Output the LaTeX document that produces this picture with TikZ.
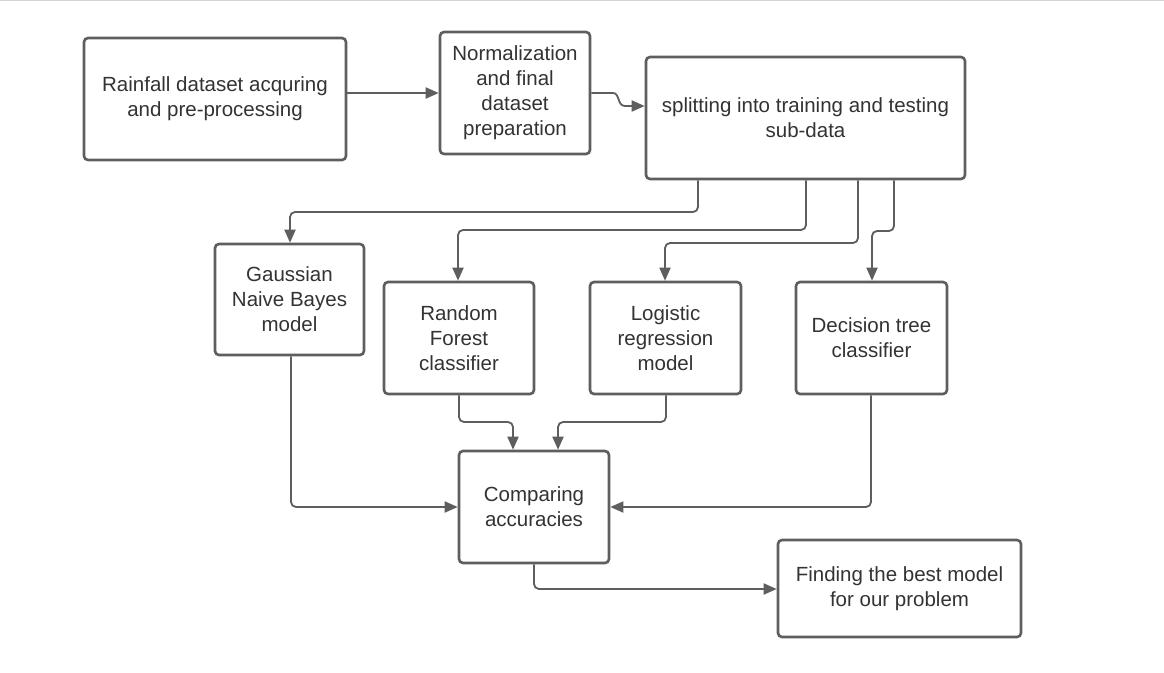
\documentclass[tikz,border=0pt]{standalone}
\usepackage{fontspec}
\setmainfont{Liberation Sans}
\usetikzlibrary{arrows.meta}
\definecolor{linegray}{HTML}{5E5E5E}
\definecolor{textgray}{HTML}{333333}
\definecolor{framegray}{HTML}{D4D4D4}
\begin{document}
\begin{tikzpicture}[x=1pt,y=-1pt,
  box/.style={draw=linegray, line width=2.6pt, rounded corners=4pt, rectangle,
    align=center, text=textgray, inner sep=0pt, anchor=center,
    font=\fontsize{20.5}{25}\selectfont},
  conn/.style={draw=linegray, line width=1.8pt, rounded corners=5pt,
    -{Triangle[length=13pt,width=11pt]}},
  topline/.style={draw=framegray, line width=1.2pt}]
\useasboundingbox (0,0) rectangle (1164,672);
\fill[white] (0,0) rectangle (1164,672);
\draw[topline] (0,0.6) -- (1164,0.6);

\node[box, minimum width=262pt, minimum height=122pt] (A) at (215,99) {Rainfall dataset acquring\\and pre-processing};
\node[box, minimum width=150pt, minimum height=122pt] (B) at (515,93) {Normalization\\and final\\dataset\\preparation};
\node[box, minimum width=319pt, minimum height=122pt] (C) at (805.5,118) {splitting into training and testing\\sub-data};
\node[box, minimum width=149pt, minimum height=111pt] (G) at (289.5,299.5) {Gaussian\\Naive Bayes\\model};
\node[box, minimum width=150pt, minimum height=112pt] (R) at (459,338) {Random\\Forest\\classifier};
\node[box, minimum width=151pt, minimum height=112pt] (L) at (665.5,338) {Logistic\\regression\\model};
\node[box, minimum width=151pt, minimum height=112pt] (D) at (871.5,338) {Decision tree\\classifier};
\node[box, minimum width=150pt, minimum height=112pt] (P) at (534,507) {Comparing\\accuracies};
\node[box, minimum width=243pt, minimum height=97pt] (F) at (899.5,588.5) {Finding the best model\\for our problem};

% top row
\draw[conn] (A.east |- 0,93) -- (B.west |- 0,93);
\draw[conn, rounded corners=0pt] (B.east |- 0,93) -- (613,93) .. controls (620,93) and (617,106) .. (625,106) -- (C.west |- 0,106);

% splitting to models
\draw[conn] (C.south -| 698,0) -- (698,212) -- (290,212) -- (G.north -| 290,0);
\draw[conn] (C.south -| 806,0) -- (806,230) -- (458,230) -- (R.north -| 458,0);
\draw[conn] (C.south -| 858,0) -- (858,243) -- (665,243) -- (L.north -| 665,0);
\draw[conn] (C.south -| 894,0) -- (894,231) -- (872,231) -- (D.north -| 872,0);

% models to comparing
\draw[conn] (G.south -| 291,0) -- (291,507) -- (P.west |- 0,507);
\draw[conn] (R.south -| 459,0) -- (459,422) -- (513,422) -- (P.north -| 513,0);
\draw[conn] (L.south -| 666,0) -- (666,422) -- (558,422) -- (P.north -| 558,0);
\draw[conn] (D.south -| 871,0) -- (871,507) -- (P.east |- 0,507);

% comparing to finding
\draw[conn] (P.south -| 534,0) -- (534,589) -- (F.west |- 0,589);
\end{tikzpicture}
\end{document}
